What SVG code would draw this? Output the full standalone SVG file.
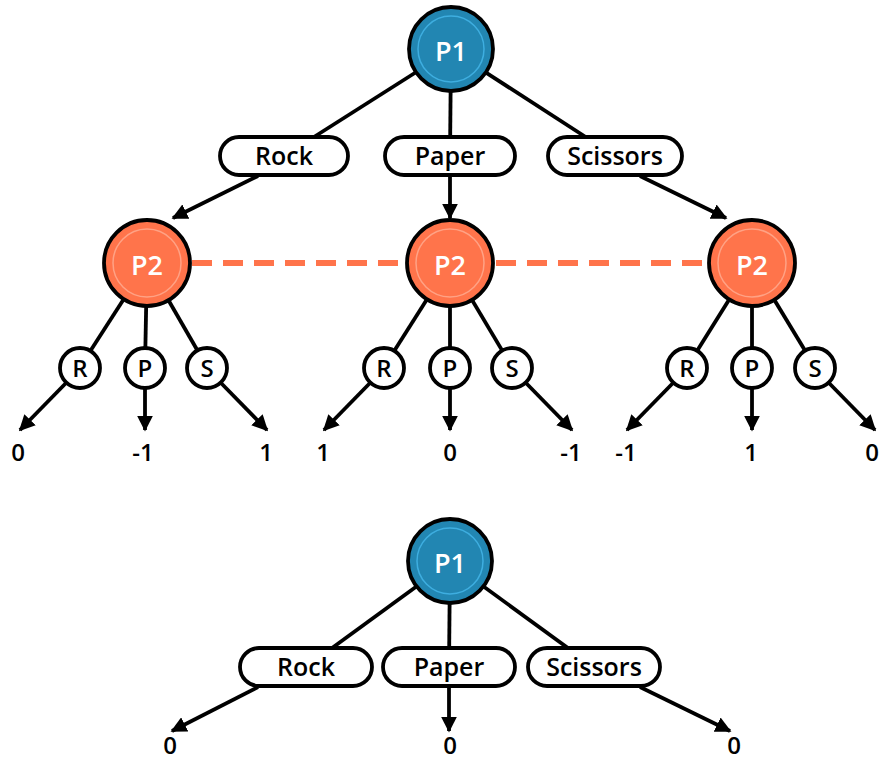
<svg xmlns="http://www.w3.org/2000/svg" width="880" height="759" viewBox="0 0 880 759">
<style>
.ln{stroke:#000;stroke-width:3.8;fill:none}
.ar{stroke:#000;stroke-width:3.8;fill:none;marker-end:url(#ah)}
.p1{fill:#2286b2;stroke:#000;stroke-width:3.8}
.p1r{fill:none;stroke:#3eaee0;stroke-width:1.5}
.p2{fill:#ff744b;stroke:#000;stroke-width:3.8}
.p2r{fill:none;stroke:#ffa285;stroke-width:1.5}
.pill{fill:#fff;stroke:#000;stroke-width:3.8}
.sm{fill:#fff;stroke:#000;stroke-width:3.8}
.t{font-family:"Open Sans","Noto Sans",sans-serif;font-weight:600;text-anchor:middle;dominant-baseline:central}
.tw{fill:#fff;font-size:27px}
.tl{fill:#000;font-size:25px}
.ts{fill:#000;font-size:24px}
.tv{fill:#000;font-size:24px}
.dash{stroke:#ff744b;stroke-width:6;stroke-dasharray:20 11;fill:none}
</style>
<defs>
<marker id="ah" viewBox="0 0 10 10" refX="9" refY="5" markerWidth="4.2" markerHeight="4.2" orient="auto" markerUnits="strokeWidth">
<path d="M0,0 L10,5 L0,10 z" fill="#000"/>
</marker>
</defs>
<g id="connectors">
<line class="ln" x1="451" y1="50" x2="284" y2="156"/>
<line class="ln" x1="451" y1="50" x2="450" y2="156"/>
<line class="ln" x1="451" y1="50" x2="615" y2="156"/>
<line class="ar" x1="258" y1="176" x2="173" y2="218"/>
<line class="ar" x1="450" y1="176" x2="450" y2="218"/>
<line class="ar" x1="640" y1="176" x2="726" y2="218"/>
<line class="dash" x1="192" y1="263" x2="406" y2="263"/>
<line class="dash" x1="496" y1="263" x2="708" y2="263"/>
<line class="ln" x1="147" y1="263" x2="80" y2="367"/>
<line class="ln" x1="147" y1="263" x2="145" y2="367"/>
<line class="ln" x1="147" y1="263" x2="207" y2="367"/>
<line class="ln" x1="450" y1="263" x2="384" y2="367"/>
<line class="ln" x1="450" y1="263" x2="450" y2="367"/>
<line class="ln" x1="450" y1="263" x2="512" y2="367"/>
<line class="ln" x1="752" y1="263" x2="687" y2="367"/>
<line class="ln" x1="752" y1="263" x2="752" y2="367"/>
<line class="ln" x1="752" y1="263" x2="815" y2="367"/>
<line class="ar" x1="66" y1="383" x2="20" y2="430"/>
<line class="ar" x1="145" y1="388" x2="145" y2="430"/>
<line class="ar" x1="221" y1="383" x2="267" y2="430"/>
<line class="ar" x1="370" y1="383" x2="324" y2="430"/>
<line class="ar" x1="450" y1="388" x2="450" y2="430"/>
<line class="ar" x1="526" y1="383" x2="572" y2="430"/>
<line class="ar" x1="673" y1="383" x2="627" y2="430"/>
<line class="ar" x1="752" y1="388" x2="752" y2="430"/>
<line class="ar" x1="829" y1="383" x2="875" y2="430"/>
<line class="ln" x1="450" y1="562" x2="306" y2="667"/>
<line class="ln" x1="450" y1="562" x2="449" y2="667"/>
<line class="ln" x1="450" y1="562" x2="594" y2="667"/>
<line class="ar" x1="258" y1="687" x2="172" y2="731"/>
<line class="ar" x1="449" y1="687" x2="449" y2="731"/>
<line class="ar" x1="640" y1="687" x2="730" y2="731"/>
</g>
<g id="p1-top"><circle class="p1" cx="451" cy="49" r="42"/><circle class="p1r" cx="451" cy="49" r="33"/><text class="t tw" x="451" y="50">P1</text></g>
<g id="rock-top"><rect class="pill" x="220" y="137" width="128" height="38" rx="19"/><text class="t tl" x="284" y="155">Rock</text></g>
<g id="paper-top"><rect class="pill" x="385" y="137" width="130" height="38" rx="19"/><text class="t tl" x="450" y="155">Paper</text></g>
<g id="scissors-top"><rect class="pill" x="548" y="137" width="134" height="38" rx="19"/><text class="t tl" x="615" y="155">Scissors</text></g>
<g id="p2-left"><circle class="p2" cx="147" cy="263" r="43"/><circle class="p2r" cx="147" cy="263" r="34"/><text class="t tw" x="147" y="264">P2</text></g>
<g id="p2-mid"><circle class="p2" cx="450" cy="263" r="43"/><circle class="p2r" cx="450" cy="263" r="34"/><text class="t tw" x="450" y="264">P2</text></g>
<g id="p2-right"><circle class="p2" cx="752" cy="263" r="43"/><circle class="p2r" cx="752" cy="263" r="34"/><text class="t tw" x="752" y="264">P2</text></g>
<g id="r1"><circle class="sm" cx="80" cy="368" r="20"/><text class="t ts" x="80" y="367">R</text></g>
<g id="pp1"><circle class="sm" cx="145" cy="368" r="20"/><text class="t ts" x="145" y="367">P</text></g>
<g id="s1"><circle class="sm" cx="207" cy="368" r="20"/><text class="t ts" x="207" y="367">S</text></g>
<g id="r2"><circle class="sm" cx="384" cy="368" r="20"/><text class="t ts" x="384" y="367">R</text></g>
<g id="pp2"><circle class="sm" cx="450" cy="368" r="20"/><text class="t ts" x="450" y="367">P</text></g>
<g id="s2"><circle class="sm" cx="512" cy="368" r="20"/><text class="t ts" x="512" y="367">S</text></g>
<g id="r3"><circle class="sm" cx="687" cy="368" r="20"/><text class="t ts" x="687" y="367">R</text></g>
<g id="pp3"><circle class="sm" cx="752" cy="368" r="20"/><text class="t ts" x="752" y="367">P</text></g>
<g id="s3"><circle class="sm" cx="815" cy="368" r="20"/><text class="t ts" x="815" y="367">S</text></g>
<g id="values-top">
<text class="t tv" x="18" y="451">0</text>
<text class="t tv" x="143" y="451">-1</text>
<text class="t tv" x="266" y="451">1</text>
<text class="t tv" x="323" y="451">1</text>
<text class="t tv" x="450" y="451">0</text>
<text class="t tv" x="571" y="451">-1</text>
<text class="t tv" x="626" y="451">-1</text>
<text class="t tv" x="751" y="451">1</text>
<text class="t tv" x="872" y="451">0</text>
</g>
<g id="p1-bottom"><circle class="p1" cx="450" cy="561" r="42"/><circle class="p1r" cx="450" cy="561" r="33"/><text class="t tw" x="450" y="562">P1</text></g>
<g id="rock-bottom"><rect class="pill" x="240" y="648" width="132" height="38" rx="19"/><text class="t tl" x="306" y="666">Rock</text></g>
<g id="paper-bottom"><rect class="pill" x="383" y="648" width="132" height="38" rx="19"/><text class="t tl" x="449" y="666">Paper</text></g>
<g id="scissors-bottom"><rect class="pill" x="528" y="648" width="132" height="38" rx="19"/><text class="t tl" x="594" y="666">Scissors</text></g>
<g id="values-bottom">
<text class="t tv" x="170" y="744">0</text>
<text class="t tv" x="450" y="744">0</text>
<text class="t tv" x="734" y="744">0</text>
</g>
</svg>
